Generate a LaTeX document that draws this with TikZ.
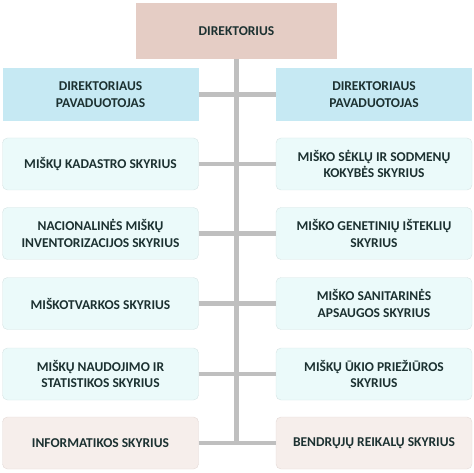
\documentclass[tikz,border=0pt]{standalone}
\usepackage{fontspec}
\setmainfont{Carlito}
\definecolor{chieffill}{HTML}{E5CDC5}
\definecolor{deputyfill}{HTML}{C6E9F3}
\definecolor{unitfill}{HTML}{EBFAFA}
\definecolor{unitline}{HTML}{D6E4E4}
\definecolor{supportfill}{HTML}{F6EEEB}
\definecolor{supportline}{HTML}{E4D9D6}
\definecolor{txtdark}{HTML}{1C3131}
\definecolor{linegray}{HTML}{BFBFBF}
\tikzset{
	box/.style={minimum width=196pt, minimum height=52pt, inner sep=2pt, align=center, text=txtdark, font=\bfseries\fontsize{13.5}{16.7}\selectfont},
	chief/.style={box, fill=chieffill, minimum width=201pt, minimum height=56pt},
	deputy/.style={box, fill=deputyfill, minimum height=53pt},
	unit/.style={box, fill=unitfill, draw=unitline, rounded corners=5pt},
	support/.style={box, fill=supportfill, draw=supportline, rounded corners=5pt},
	link/.style={draw=linegray, line width=4.5pt}
}
\begin{document}
\begin{tikzpicture}[x=1pt, y=-1pt]
		\useasboundingbox (0,0) rectangle (474,473);

		\node[chief] (dir) at (236.5,31) {DIREKTORIUS};

		\node[deputy] (dep1) at (100.5,94.5) {DIREKTORIAUS\\PAVADUOTOJAS};
		\node[deputy] (dep2) at (374,94.5) {DIREKTORIAUS\\PAVADUOTOJAS};

		\node[unit] (kad) at (100.5,164) {MIŠKŲ KADASTRO SKYRIUS};
		\node[unit] (sek) at (374,164) {MIŠKO SĖKLŲ IR SODMENŲ\\KOKYBĖS SKYRIUS};

		\node[unit] (inv) at (100.5,233.5) {NACIONALINĖS MIŠKŲ\\INVENTORIZACIJOS SKYRIUS};
		\node[unit] (gen) at (374,233.5) {MIŠKO GENETINIŲ IŠTEKLIŲ\\SKYRIUS};

		\node[unit] (mtv) at (100.5,303.5) {MIŠKOTVARKOS SKYRIUS};
		\node[unit] (san) at (374,303.5) {MIŠKO SANITARINĖS\\APSAUGOS SKYRIUS};

		\node[unit] (nau) at (100.5,374) {MIŠKŲ NAUDOJIMO IR\\STATISTIKOS SKYRIUS};
		\node[unit] (uki) at (374,374) {MIŠKŲ ŪKIO PRIEŽIŪROS\\SKYRIUS};

		\node[support] (inf) at (100.5,443) {INFORMATIKOS SKYRIUS};
		\node[support] (ben) at (374,443) {BENDRŲJŲ REIKALŲ SKYRIUS};

		% trunk and branches
		\coordinate (trunkend) at (dir.south |- inf.east);
		\draw[link] (dir.south) -- ([yshift=2pt]trunkend);
		\draw[link] (dep1.east) -- (dep2.west);
		\draw[link] (kad.east) -- (sek.west);
		\draw[link] (inv.east) -- (gen.west);
		\draw[link] (mtv.east) -- (san.west);
		\draw[link] (nau.east) -- (uki.west);
		\draw[link] (inf.east) -- (ben.west);
	\end{tikzpicture}
\end{document}
